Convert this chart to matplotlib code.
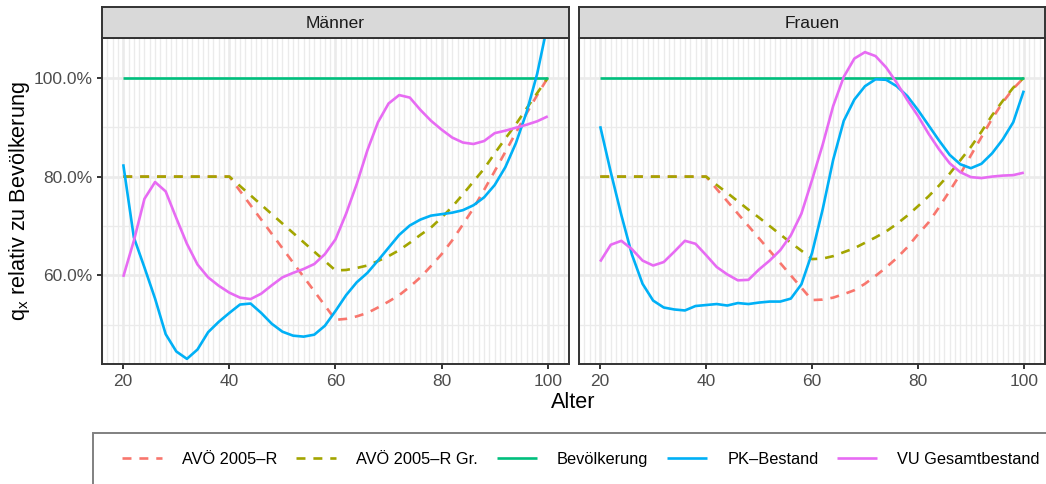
import matplotlib
matplotlib.use("Agg")
import matplotlib.pyplot as plt
from matplotlib.patches import Rectangle
from matplotlib.lines import Line2D
from matplotlib.ticker import FixedLocator, FuncFormatter

# ---------------- data ----------------
ages = [20, 22, 24, 26, 28, 30, 32, 34, 36, 38, 40, 42, 44, 46, 48, 50, 52, 54, 56, 58,
        60, 62, 64, 66, 68, 70, 72, 74, 76, 78, 80, 82, 84, 86, 88, 90, 92, 94, 96, 98, 100]

panels = ["Männer", "Frauen"]
series_names = ["AVÖ 2005–R", "AVÖ 2005–R Gr.", "Bevölkerung", "PK–Bestand", "VU Gesamtbestand"]

# Männer
m_avo_r = [0.80, 0.80, 0.80, 0.80, 0.80, 0.80, 0.80, 0.80, 0.80, 0.80,
           0.80, 0.771, 0.742, 0.713, 0.684, 0.655, 0.626, 0.597, 0.568, 0.539,
           0.510, 0.512, 0.517, 0.524, 0.535, 0.547, 0.560, 0.577, 0.596, 0.619,
           0.643, 0.671, 0.703, 0.736, 0.773, 0.811, 0.850, 0.889, 0.928, 0.965, 1.000]
m_avo_gr = [0.80, 0.80, 0.80, 0.80, 0.80, 0.80, 0.80, 0.80, 0.80, 0.80,
            0.80, 0.781, 0.762, 0.743, 0.724, 0.705, 0.686, 0.667, 0.648, 0.629,
            0.610, 0.611, 0.615, 0.620, 0.629, 0.639, 0.651, 0.666, 0.682, 0.697,
            0.717, 0.739, 0.764, 0.790, 0.816, 0.847, 0.877, 0.906, 0.938, 0.969, 1.000]
m_bev = [1.0, 1.0]
m_pk = [0.825, 0.677, 0.616, 0.553, 0.481, 0.446, 0.431, 0.450, 0.485, 0.506,
        0.524, 0.541, 0.543, 0.524, 0.502, 0.486, 0.478, 0.476, 0.480, 0.498,
        0.528, 0.560, 0.586, 0.605, 0.630, 0.656, 0.682, 0.701, 0.713, 0.721,
        0.724, 0.727, 0.732, 0.742, 0.758, 0.783, 0.819, 0.868, 0.930, 1.008, 1.110]
m_vu = [0.597, 0.670, 0.755, 0.789, 0.770, 0.716, 0.664, 0.622, 0.596, 0.579,
        0.565, 0.555, 0.552, 0.563, 0.580, 0.596, 0.605, 0.613, 0.623, 0.643,
        0.673, 0.725, 0.785, 0.853, 0.910, 0.948, 0.965, 0.960, 0.935, 0.913,
        0.895, 0.879, 0.869, 0.866, 0.872, 0.888, 0.893, 0.899, 0.905, 0.912, 0.922]

# Frauen
f_avo_r = [0.80, 0.80, 0.80, 0.80, 0.80, 0.80, 0.80, 0.80, 0.80, 0.80,
           0.80, 0.775, 0.750, 0.725, 0.700, 0.675, 0.650, 0.625, 0.600, 0.575,
           0.550, 0.551, 0.555, 0.562, 0.570, 0.583, 0.599, 0.616, 0.635, 0.657,
           0.683, 0.707, 0.738, 0.771, 0.805, 0.843, 0.880, 0.917, 0.950, 0.978, 1.000]
f_avo_gr = [0.80, 0.80, 0.80, 0.80, 0.80, 0.80, 0.80, 0.80, 0.80, 0.80,
            0.80, 0.783, 0.767, 0.750, 0.733, 0.717, 0.700, 0.683, 0.666, 0.650,
            0.633, 0.634, 0.639, 0.647, 0.655, 0.666, 0.677, 0.689, 0.704, 0.721,
            0.740, 0.760, 0.782, 0.806, 0.833, 0.860, 0.891, 0.924, 0.953, 0.980, 1.000]
f_bev = [1.0, 1.0]
f_pk = [0.902, 0.809, 0.722, 0.642, 0.583, 0.549, 0.535, 0.531, 0.529, 0.538,
        0.540, 0.542, 0.539, 0.544, 0.542, 0.545, 0.547, 0.547, 0.553, 0.582,
        0.645, 0.733, 0.834, 0.913, 0.956, 0.983, 0.997, 0.996, 0.983, 0.963,
        0.935, 0.904, 0.873, 0.844, 0.825, 0.817, 0.826, 0.847, 0.875, 0.910, 0.974]
f_vu = [0.628, 0.662, 0.670, 0.653, 0.630, 0.620, 0.627, 0.648, 0.670, 0.664,
        0.641, 0.617, 0.602, 0.590, 0.591, 0.612, 0.630, 0.651, 0.681, 0.725,
        0.793, 0.864, 0.943, 1.002, 1.039, 1.052, 1.044, 1.021, 0.990, 0.955,
        0.923, 0.887, 0.855, 0.827, 0.809, 0.799, 0.797, 0.800, 0.802, 0.803, 0.808]

bev_ages = [20, 100]

x_breaks = [20, 40, 60, 80, 100]
x_minor = list(range(16, 105))
y_breaks = [0.6, 0.8, 1.0]
y_minor = [0.5, 0.7, 0.9]

# ---------------- style ----------------
colors = ["#F8766D", "#A3A500", "#00BF7D", "#00B0F6", "#E76BF3"]
dashed = (0, (3.4, 3.0))
styles = [dashed, dashed, "-", "-", "-"]

plt.rcParams["font.family"] = ["Liberation Sans", "DejaVu Sans"]
plt.rcParams["mathtext.fontset"] = "custom"
plt.rcParams["mathtext.rm"] = "Liberation Sans"
plt.rcParams["mathtext.it"] = "Liberation Sans:italic"

W, H = 1046, 484
fig = plt.figure(figsize=(W / 100, H / 100), dpi=100)


def fx(px):
    return px / W


def fy(py):
    return 1 - py / H


panel_top, panel_bot = 38.3, 364.3
strip_top = 6.5
panel_x = [(102, 569), (579, 1045)]

data = {
    "Männer": (m_avo_r, m_avo_gr, m_bev, m_pk, m_vu),
    "Frauen": (f_avo_r, f_avo_gr, f_bev, f_pk, f_vu),
}

border_col = "#333333"
lw = 1.9
axes = []
for i, (name, (x0, x1)) in enumerate(zip(panels, panel_x)):
    ax = fig.add_axes([fx(x0), fy(panel_bot), (x1 - x0) / W, (panel_bot - panel_top) / H])
    axes.append(ax)
    vals = data[name]
    for j, (lab, y) in enumerate(zip(series_names, vals)):
        xs = bev_ages if len(y) == 2 else ages
        ax.plot(xs, y, color=colors[j], linestyle=styles[j], lw=lw,
                solid_capstyle="butt", dash_capstyle="butt",
                solid_joinstyle="round", label=lab)
    ax.set_xlim(16, 104)
    ax.set_ylim(0.42, 1.08)
    ax.xaxis.set_major_locator(FixedLocator(x_breaks))
    ax.xaxis.set_minor_locator(FixedLocator(x_minor))
    ax.yaxis.set_major_locator(FixedLocator(y_breaks))
    ax.yaxis.set_minor_locator(FixedLocator(y_minor))
    ax.yaxis.set_major_formatter(FuncFormatter(lambda v, p: f"{v * 100:.1f}%"))
    ax.set_axisbelow(True)
    ax.grid(which="major", color="#EBEBEB", lw=1.9)
    ax.grid(which="minor", color="#EBEBEB", lw=0.95)
    ax.tick_params(which="minor", length=0)
    ax.tick_params(which="major", length=3.6, width=1.4, color=border_col,
                   labelsize=12.5, labelcolor="#4D4D4D", pad=3.5)
    if i == 1:
        ax.tick_params(axis="y", which="both", left=False, labelleft=False)
    for s in ax.spines.values():
        s.set_color(border_col)
        s.set_linewidth(1.4)
        s.set_zorder(5)
    # strip
    sax = fig.add_axes([fx(x0), fy(panel_top), (x1 - x0) / W, (panel_top - strip_top) / H])
    sax.set_facecolor("#D9D9D9")
    sax.set_xticks([])
    sax.set_yticks([])
    for s in sax.spines.values():
        s.set_color(border_col)
        s.set_linewidth(1.4)
    sax.text(0.5, 0.47, name, ha="center", va="center", fontsize=12.5,
             color="#1A1A1A", transform=sax.transAxes)

# axis titles
fig.text(fx(20), fy((panel_top + panel_bot) / 2), r"$\mathregular{q_x}$ relativ zu Bevölkerung",
         rotation=90, ha="center", va="center", fontsize=15.6, color="black")
fig.text(fx((102 + 1045) / 2), fy(402), "Alter", ha="center", va="center",
         fontsize=15.6, color="black")

# legend
handles = [Line2D([], [], color=c, linestyle=s, lw=lw, solid_capstyle="butt",
                  dash_capstyle="butt") for c, s in zip(colors, styles)]
fig.legend(handles, series_names, ncol=5, loc="center left",
           bbox_to_anchor=(fx(121.7), fy(459.3)), frameon=False, fontsize=11.8,
           handlelength=2.44, handletextpad=1.22, columnspacing=1.16,
           borderpad=0, borderaxespad=0)
fig.patches.append(Rectangle((fx(93.3), -0.2), 1.0, (484 - 433.3) / H + 0.2,
                             transform=fig.transFigure, fill=False,
                             edgecolor="#808080", lw=1.4))

fig.savefig("out.png", dpi=100)
